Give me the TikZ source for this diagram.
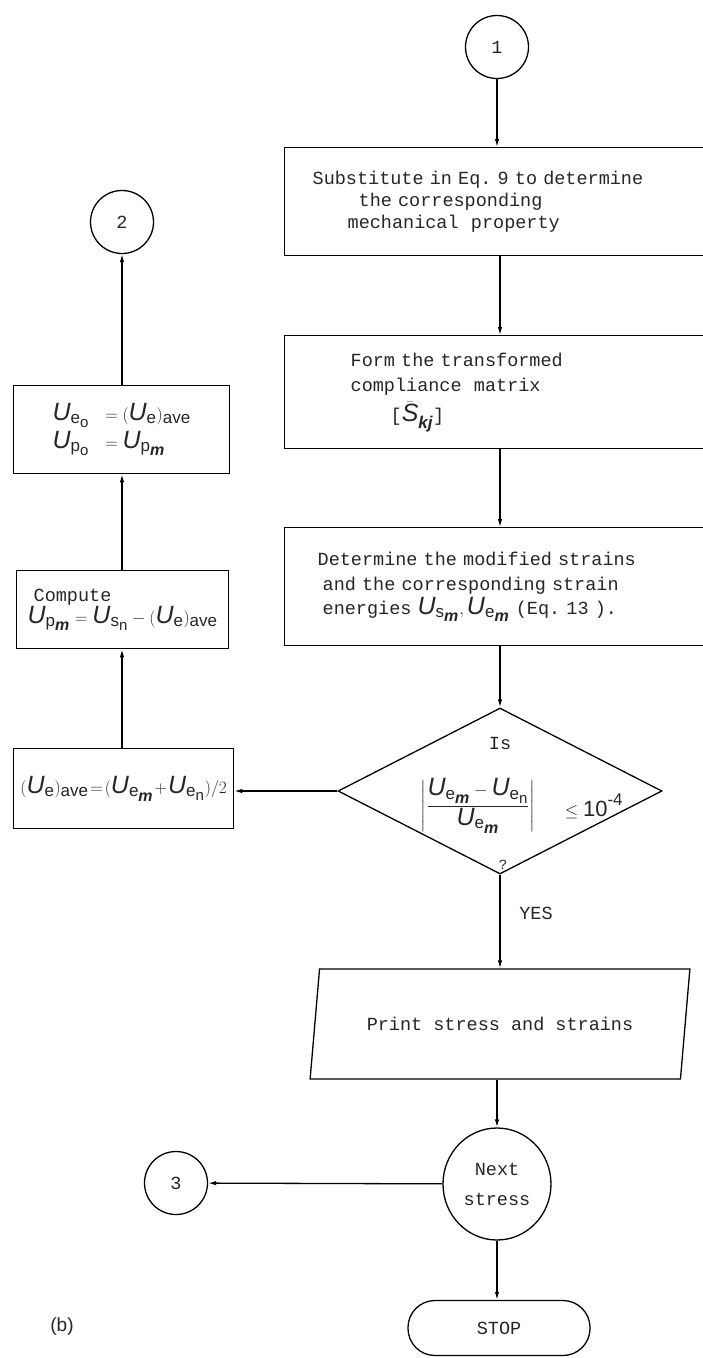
\documentclass[tikz,border=0pt]{standalone}
\usepackage{fontspec}
\usepackage{amsmath}
\usetikzlibrary{shapes.geometric,arrows.meta}
\newfontfamily\tw{Liberation Mono}
\newfontfamily\msans{Liberation Sans}
\newcommand{\Usym}{\text{\fontsize{25}{25}\selectfont\msans\itshape U}}
\newcommand{\Ssym}{\text{\fontsize{25}{25}\selectfont\msans\itshape S}}
\newcommand{\subA}[1]{\text{\fontsize{17}{17}\selectfont\msans #1}}
\newcommand{\subB}[1]{\text{\fontsize{15}{15}\selectfont\msans #1}}
\newcommand{\subM}{\text{\fontsize{16}{16}\selectfont\msans\bfseries\itshape m}}
\newcommand{\subKJ}{\text{\fontsize{17}{17}\selectfont\msans\bfseries\itshape kj}}
\begin{document}
\begin{tikzpicture}[x=1pt,y=-1pt,line width=1.3pt,
  font=\tw\fontsize{18.5}{22}\selectfont\frenchspacing,
  every node/.style={text=black!85},
  rbox/.style={draw=black,rectangle,anchor=north west,align=left,inner ysep=0pt,minimum width=428pt},
  lbox/.style={draw=black,rectangle,anchor=north west,align=left,inner ysep=0pt},
  conn/.style={draw=black,circle,inner sep=0pt,minimum size=63pt},
  lbl/.style={inner sep=0.5pt},
  arr/.style={draw=black,-{Latex[length=8pt,width=4.5pt]}}]
\fill[white] (0,0) rectangle (702,1358);
\useasboundingbox (0,0) rectangle (702,1358);

% right column
\node[conn] (c1) at (497,47) {1};
\node[rbox,minimum height=108pt,text width=372pt,inner xsep=28pt] (b1) at (284,147)
  {Substitute in Eq. 9 to determine\\\hspace*{46pt}the corresponding\\\hspace*{35pt}mechanical\ \ property};
\node[rbox,minimum height=113pt,text width=296pt,inner xsep=66pt] (b2) at (284,335)
  {\fontsize{18.5}{25}\selectfont Form the transformed\\compliance\ \ matrix\\[6pt]\hspace*{40pt}[$\bar{\Ssym}_{\subKJ}$]};
\node[rbox,minimum height=118pt,text width=362pt,inner xsep=33pt] (b3) at (284,527)
  {\fontsize{18.5}{25}\selectfont Determine the modified strains\\\hspace*{5pt}and the corresponding strain\\[2pt]\hspace*{5pt}energies $\Usym_{\subA{s}_{\subM}}, \Usym_{\subA{e}_{\subM}}$ (Eq. 13 ).};

\node[draw=black,diamond,minimum width=324pt,minimum height=166pt,inner sep=0pt] (d) at (500,791) {};
\node[lbl] (is) at (500,743) {Is};
\node[lbl] (frac) at (478,806) {$\left|\dfrac{\Usym_{\subA{e}_{\subM}} - \Usym_{\subA{e}_{\subB{n}}}}{\Usym_{\subA{e}_{\subM}}}\right|$};
\node[lbl] (lim) at (594,806) {$\leq \text{\fontsize{22}{22}\selectfont\msans 10}^{\subA{-4}}$};
\node[lbl] (q) at (503,865) {\fontsize{14}{14}\selectfont ?};

\node[draw=black,trapezium,trapezium left angle=63,trapezium right angle=117,trapezium stretches=true,
  minimum width=381pt,minimum height=110pt,inner sep=0pt] (pr) at (500,1024) {Print stress and strains};
\node[lbl] (yes) at (536,913) {YES};

\node[draw=black,ellipse,minimum width=108pt,minimum height=112pt,inner sep=0pt,align=center] (ns) at (497,1184)
  {Next\\[8pt]stress};
\node[conn] (c3) at (176,1183) {3};
\node[draw=black,rectangle,rounded corners=27pt,minimum width=182pt,minimum height=55pt] (stop) at (499,1328) {STOP};
\node[lbl] (lab) at (62,1327) {\msans\fontsize{19}{22}\selectfont (b)};

% left column
\node[conn] (c2) at (122,222) {2};
\node[lbox,minimum width=216pt,minimum height=88pt] (bA) at (13,385)
  {$\Usym_{\subA{e}_{\subB{o}}}\ =(\Usym_{\subA{e}})_{\subA{ave}}$\\[2pt]$\Usym_{\subA{p}_{\subB{o}}}\ = \Usym_{\subA{p}_{\subM}}$};
\node[lbox,minimum width=212pt,minimum height=78pt,inner xsep=4pt] (bB) at (16,570)
  {\hspace*{6pt}Compute\\$\Usym_{\subA{p}_{\subM}} = \Usym_{\subA{s}_{\subB{n}}} - (\Usym_{\subA{e}})_{\subA{ave}}$};
\node[lbox,minimum width=220pt,minimum height=80pt,inner xsep=2pt] (bC) at (13,748)
  {$(\Usym_{\subA{e}})_{\subA{ave}}\!=\!(\Usym_{\subA{e}_{\subM}}\!+\!\Usym_{\subA{e}_{\subB{n}}})/2$};

% connectors right column
\draw[arr] (c1.south) -- (c1.south |- b1.north);
\draw[arr] (b1.south -| d) -- (b2.north -| d);
\draw[arr] (b2.south -| d) -- (b3.north -| d);
\draw[arr] (b3.south -| d) -- (d.north);
\draw[arr] (d.south) -- (d.south |- pr.north);
\draw[arr] (pr.south -| ns) -- (ns.north);
\draw[arr] (ns.south) -- (ns.south |- stop.north);
\draw[arr] (ns) -- (c3);
% connectors left column
\draw[arr] (d.west) -- (d.west -| bC.east);
\draw[arr] (bC.north -| c2) -- (bB.south -| c2);
\draw[arr] (bB.north -| c2) -- (bA.south -| c2);
\draw[arr] (bA.north -| c2) -- (c2.south);
\end{tikzpicture}
\end{document}
